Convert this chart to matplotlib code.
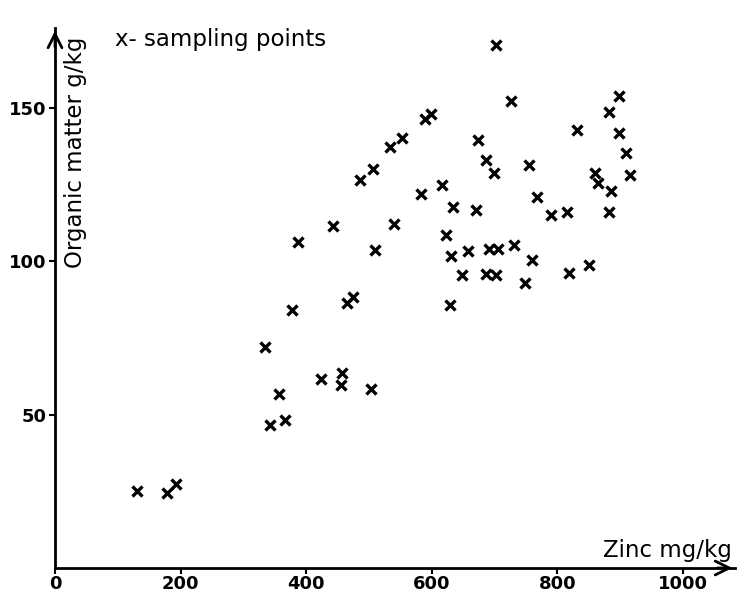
import matplotlib
matplotlib.use("Agg")
from matplotlib import pyplot as plt

zinc = [130, 179, 192, 334, 377, 357, 342, 366, 423, 455, 457, 465, 475, 504,
        629, 387, 442, 485, 506, 533, 552, 590, 599, 703, 727, 674, 687, 699,
        755, 831, 898, 882, 898, 909, 915, 860, 865, 885, 882, 816, 790, 768,
        671, 634, 617, 583, 540, 510, 622, 631, 657, 692, 706, 731, 759, 648,
        686, 702, 748, 818, 850]
organic = [25.1, 24.6, 27.3, 71.9, 84.0, 56.7, 46.6, 48.2, 61.5, 59.8, 63.6,
           86.5, 88.2, 58.2, 85.7, 106.3, 111.5, 126.4, 129.9, 137.2, 140.3,
           146.5, 147.9, 170.6, 152.2, 139.4, 133.1, 128.6, 131.3, 142.7,
           153.7, 148.5, 141.9, 135.2, 128.0, 128.9, 125.5, 122.9, 116.1,
           115.9, 115.0, 120.9, 116.8, 117.7, 124.7, 122.0, 112.0, 103.6,
           108.5, 101.6, 103.4, 104.1, 103.9, 105.2, 100.3, 95.4, 95.8, 95.4,
           92.9, 96.3, 98.9]

xticks = [0, 200, 400, 600, 800, 1000]
yticks = [50, 100, 150]

fig = plt.figure(figsize=(7.38, 5.92), dpi=100)
ax = fig.add_axes([55 / 738, 24 / 592, 680 / 738, 540 / 592])

ax.plot(zinc, organic, "x", color="black", markersize=6.5, markeredgewidth=2.4)

ax.set_xlim(0, 1083)
ax.set_ylim(0, 176)

for s in ["top", "right"]:
    ax.spines[s].set_visible(False)
for s in ["left", "bottom"]:
    ax.spines[s].set_linewidth(2)

# arrow heads at the ends of the axes
ax.annotate("", xy=(1.0, 0), xytext=(0.97, 0), xycoords="axes fraction",
            arrowprops=dict(arrowstyle="->", lw=2, mutation_scale=25, color="black"))
ax.annotate("", xy=(0, 1.0), xytext=(0, 0.96), xycoords="axes fraction",
            arrowprops=dict(arrowstyle="->", lw=2, mutation_scale=25, color="black"))

tick_font = dict(family="DejaVu Sans", weight="bold", size=13)
ax.set_xticks(xticks)
ax.set_xticklabels([str(v) for v in xticks], **tick_font)
ax.set_yticks(yticks)
ax.set_yticklabels([str(v) for v in yticks], **tick_font)
ax.tick_params(axis="both", direction="out", length=4, width=1.5, pad=2)
ax.tick_params(axis="x", pad=1)

ax.text(0.03, 0.77, "Organic matter g/kg", transform=ax.transAxes, rotation=90,
        fontsize=16.5, ha="center", va="center")
ax.text(0.995, 0.012, "Zinc mg/kg", transform=ax.transAxes,
        fontsize=16.5, ha="right", va="bottom")
ax.text(0.088, 1.0, "x- sampling points", transform=ax.transAxes,
        fontsize=16.5, ha="left", va="top")

plt.savefig("out.png", dpi=100)
